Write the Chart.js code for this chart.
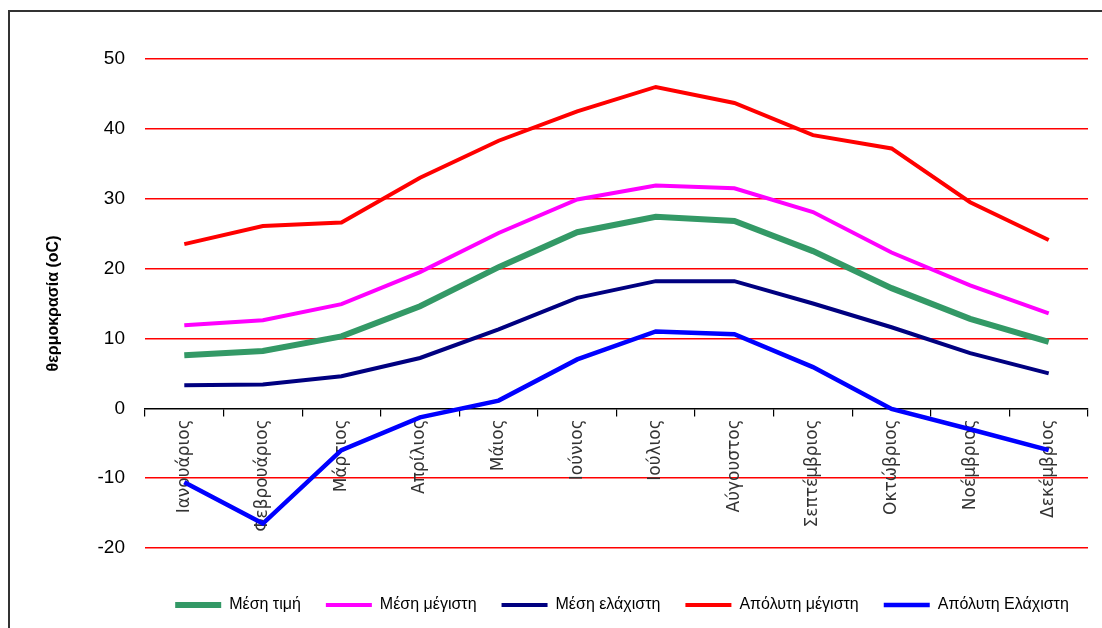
<!DOCTYPE html>
<html lang="el">
<head>
  <meta charset="UTF-8" />
  <title>Θερμοκρασία ανά μήνα</title>
  <script src="https://cdn.jsdelivr.net/npm/chart.js"></script>
  <style>
    body {
      margin: 0;
      background-color: white;
    }

    .frame {
      position: absolute;
      left: 8px;
      top: 10px;
      right: 0;
      bottom: 0;
      border-left: 2px solid #333;
      border-top: 2px solid #333;
    }

    .chart {
      position: absolute;
      left: 0;
      top: 0;
      width: 1102px;
      height: 628px;
    }
  </style>
</head>
<body>

<div class="frame"></div>
<div class="chart">
  <canvas id="tempChart" width="1102" height="628"></canvas>
</div>

<script>
  // Months on the x axis
  const months = ["Ιανουάριος", "Φεβρουάριος", "Μάρτιος", "Απρίλιος", "Μάιος", "Ιούνιος",
                  "Ιούλιος", "Αύγουστος", "Σεπτέμβριος", "Οκτώβριος", "Νοέμβριος", "Δεκέμβριος"];

  // Temperatures per month (oC)
  const meanTemp   = [7.6, 8.2, 10.3, 14.6, 20.2, 25.2, 27.4, 26.8, 22.5, 17.2, 12.8, 9.5];
  const meanMax    = [11.9, 12.6, 14.9, 19.5, 25.1, 29.9, 31.9, 31.5, 28.1, 22.3, 17.6, 13.6];
  const meanMin    = [3.3, 3.4, 4.6, 7.2, 11.3, 15.8, 18.2, 18.2, 15.0, 11.6, 7.9, 5.0];
  const absMax     = [23.5, 26.1, 26.6, 33.0, 38.3, 42.5, 46.0, 43.7, 39.1, 37.2, 29.5, 24.1];
  const absMin     = [-10.6, -16.5, -6.0, -1.3, 1.1, 7.0, 11.0, 10.6, 5.9, -0.1, -3.0, -6.0];

  // Y axis range
  const yMin = -20;
  const yMax = 50;
  const yStep = 10;

  // Moves the legend to sit under the plot, a bit right of centre
  const legendShift = {
    id: 'legendShift',
    afterLayout(chart) {
      const lg = chart.legend;
      const dx = 61, dy = 24;
      lg.left += dx; lg.right += dx;
      lg.top += dy; lg.bottom += dy;
    }
  };

  function series(label, data, color, width) {
    return {
      label: label,
      data: data,
      borderColor: color,
      backgroundColor: color,
      borderWidth: width,
      pointRadius: 0,
      tension: 0,
      fill: false
    };
  }

  new Chart(document.getElementById('tempChart'), {
    type: 'line',
    data: {
      labels: months,
      datasets: [
        series("Μέση τιμή", meanTemp, "#339966", 6),
        series("Μέση μέγιστη", meanMax, "#ff00ff", 4),
        series("Μέση ελάχιστη", meanMin, "#000080", 4),
        series("Απόλυτη μέγιστη", absMax, "#ff0000", 4),
        series("Απόλυτη Ελάχιστη", absMin, "#0000ff", 4.5)
      ]
    },
    options: {
      responsive: false,
      animation: false,
      layout: {
        padding: { left: 34, right: 14, top: 59, bottom: 29 }
      },
      plugins: {
        tooltip: { enabled: false },
        legend: {
          position: 'bottom',
          labels: {
            usePointStyle: true,
            pointStyle: 'line',
            pointStyleWidth: 46,
            padding: 25,
            color: '#000',
            font: { family: 'Liberation Sans', size: 16 }
          }
        }
      },
      scales: {
        x: {
          position: { y: 0 },
          offset: true,
          grid: {
            offset: true,
            drawOnChartArea: false,
            drawTicks: true,
            tickLength: 7,
            color: '#000',
            lineWidth: 1.2
          },
          border: { display: true, color: '#000', width: 1.5 },
          ticks: {
            autoSkip: false,
            minRotation: 90,
            maxRotation: 90,
            padding: 4,
            color: '#333',
            font: { family: 'DejaVu Sans', size: 17 }
          }
        },
        y: {
          min: yMin,
          max: yMax,
          afterFit(scale) { scale.width = 111; },
          grid: {
            drawTicks: false,
            lineWidth: 1.5,
            color: ctx => ctx.tick && ctx.tick.value === 0 ? 'rgba(0,0,0,0)' : '#ff0000'
          },
          border: { display: false },
          ticks: {
            stepSize: yStep,
            padding: 20,
            color: '#000',
            font: { family: 'Liberation Sans', size: 19 }
          },
          title: {
            display: true,
            text: 'θερμοκρασία (oC)',
            color: '#000',
            padding: { top: 10, bottom: 4 },
            font: { family: 'Liberation Sans', size: 16, weight: 'bold' }
          }
        }
      }
    },
    plugins: [legendShift]
  });
</script>
</body>
</html>
